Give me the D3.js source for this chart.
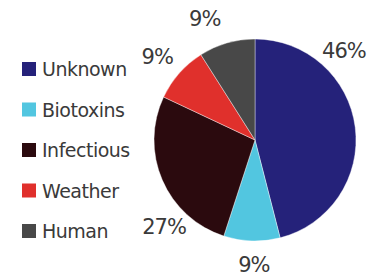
<!DOCTYPE html>
<html><head><meta charset="utf-8">
<script src="https://cdn.jsdelivr.net/npm/d3@7"></script>
<style>html,body{margin:0;padding:0;background:#fff;}</style>
</head><body>
<svg id="c" width="367" height="272"></svg>
<script>
const categories = ["Unknown", "Biotoxins", "Infectious", "Weather", "Human"];
const values = [46, 9, 27, 9, 9];
const pctLabels = ["46%", "9%", "27%", "9%", "9%"];
const colors = ["#25227a", "#52c6e0", "#2b0a0e", "#e0302c", "#484848"];

const svg = d3.select("#c");
const cx = 255, cy = 140, r = 101;
const pie = d3.pie().sort(null).value(d => d)(values);
const arc = d3.arc().innerRadius(0).outerRadius(r);
const g = svg.append("g").attr("transform", `translate(${cx},${cy})`);
g.selectAll("path").data(pie).join("path")
  .attr("d", arc)
  .attr("fill", (d, i) => colors[i])
  .attr("stroke", "#fff").attr("stroke-width", 0.4);

// label placement: angle (deg, clockwise from top) and radius factor
const labelAngle = [45, 180.5, 226.3, 310.3, 337.5];
const labelRad = [1.245, 1.235, 1.245, 1.27, 1.30];
g.selectAll("text.pct").data(pie).join("text")
  .attr("class", "pct")
  .attr("transform", (d, i) => {
    const a = labelAngle[i] * Math.PI / 180;
    const rr = r * labelRad[i];
    return `translate(${Math.sin(a) * rr},${-Math.cos(a) * rr})`;
  })
  .attr("text-anchor", "middle").attr("dominant-baseline", "central")
  .attr("font-family", "DejaVu Sans, sans-serif").attr("font-size", 21)
  .attr("fill", "#3a3a3a").attr("letter-spacing", -1)
  .text((d, i) => pctLabels[i]);

const legend = svg.append("g");
const leg = legend.selectAll("g").data(categories).join("g")
  .attr("transform", (d, i) => `translate(22,${69 + i * 40.5})`);
leg.append("rect").attr("x", 0).attr("y", -7).attr("width", 14).attr("height", 14)
  .attr("fill", (d, i) => colors[i]);
leg.append("text").attr("x", 20).attr("y", 0).attr("dominant-baseline", "central")
  .attr("font-family", "DejaVu Sans, sans-serif").attr("font-size", 19)
  .attr("fill", "#3a3a3a").attr("letter-spacing", -0.5)
  .text(d => d);
</script>
</body></html>
